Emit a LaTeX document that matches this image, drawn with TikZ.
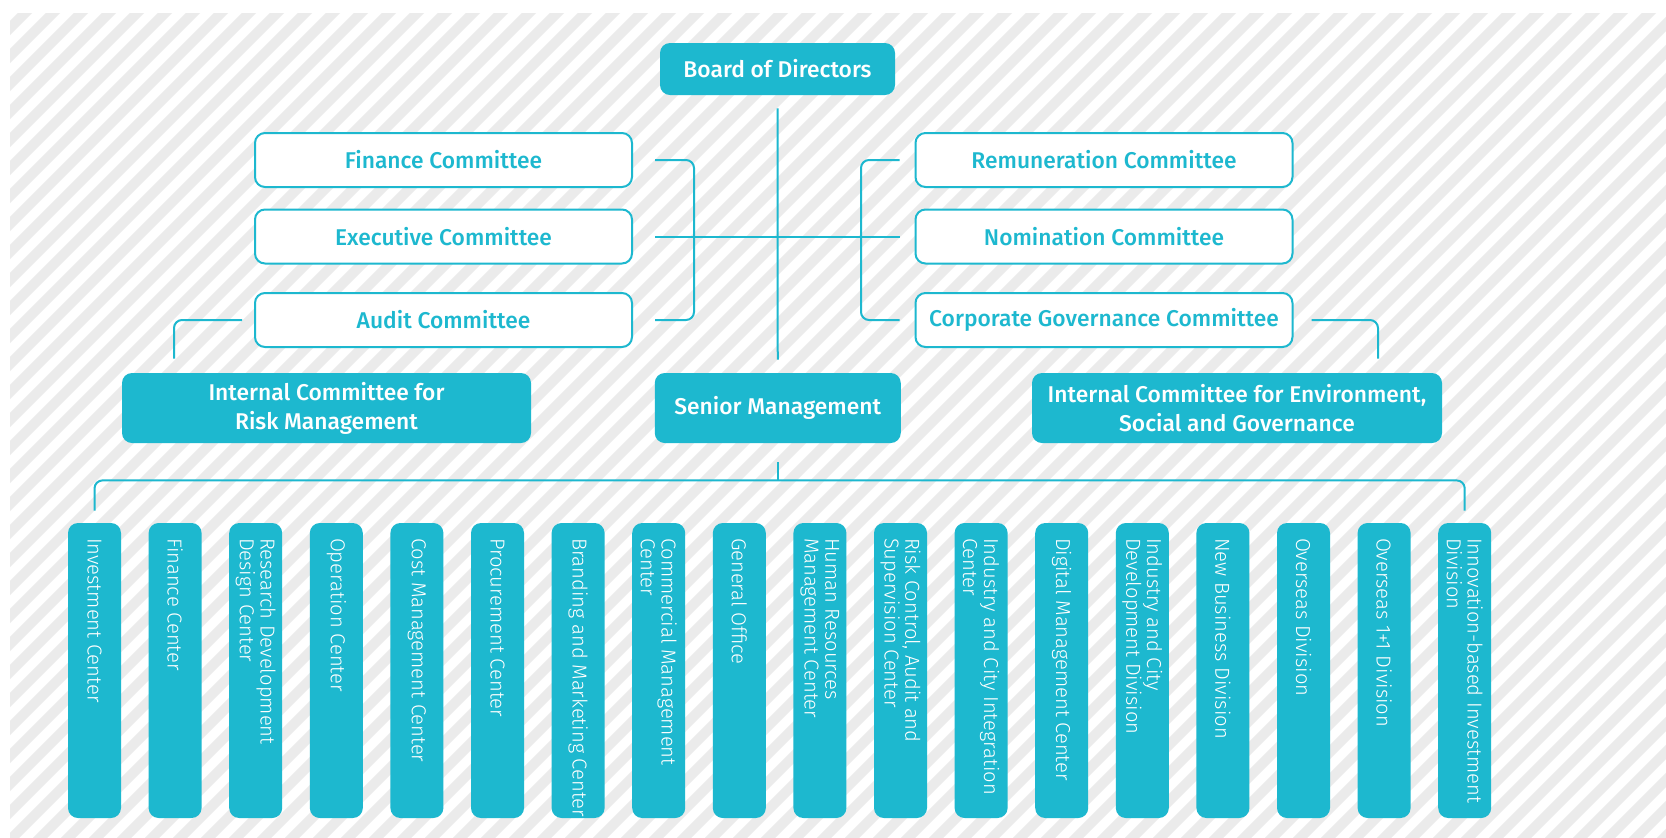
\documentclass[tikz,border=0pt]{standalone}
\usepackage{fontspec}
\setmainfont{Fira Sans}
\newfontfamily\boxfont{Fira Sans Medium}
\newfontfamily\unitfont{Fira Sans Light}
\usetikzlibrary{shapes.geometric, arrows}
\usetikzlibrary{positioning}
\definecolor{boxcyan}{HTML}{1DB8CF}
\definecolor{stripegray}{HTML}{EBEBEB}
\newcommand{\unittext}[1]{\rotatebox{-90}{\parbox{132.5pt}{\raggedright #1}}}
\tikzstyle{board} = [rectangle, rounded corners=5pt, fill=boxcyan, text=white, font=\boxfont\fontsize{11.4}{14.5}\selectfont, align=center, inner sep=0pt]
\tikzstyle{committee} = [rectangle, rounded corners=5pt, draw=boxcyan, line width=1pt, fill=white, text=boxcyan, font=\boxfont\fontsize{11.4}{13}\selectfont, minimum width=188.5pt, minimum height=27pt, inner sep=0pt]
\tikzstyle{unit} = [rectangle, rounded corners=5pt, fill=boxcyan, text=white, font=\unitfont\fontsize{10.1}{10.4}\selectfont, minimum width=26.5pt, minimum height=147.5pt, inner xsep=0pt, inner ysep=7.5pt]
\tikzstyle{link} = [line width=1pt, draw=boxcyan, rounded corners=4pt]
\tikzstyle{stripe} = [line width=5pt, draw=stripegray]

\begin{document}
\begin{tikzpicture}[x=0.5pt, y=-0.5pt, node distance=40.3pt]
    \useasboundingbox (0,0) rectangle (1666,837);
    \fill[white] (0,0) rectangle (1666,837);
    % striped backdrop
    \begin{scope}
        \clip (10,13) rectangle (1666,837);
        \foreach \k in {-30,...,60}
            \draw [stripe] (\k*28, 850) -- ++(860,-860);
    \end{scope}

    \node (board) [board, minimum width=117.5pt, minimum height=26pt] at (777.5,69) {Board of Directors};
    \node (fin) [committee] at (443.5,160) {Finance Committee};
    \node (exe) [committee, below of = fin, node distance=38.25pt] {Executive Committee};
    \node (aud) [committee, below of = exe, node distance=41.75pt] {Audit Committee};
    \node (rem) [committee] at (1104,160) {Remuneration Committee};
    \node (nom) [committee, below of = rem, node distance=38.25pt] {Nomination Committee};
    \node (cgc) [committee, below of = nom, node distance=41.75pt] {Corporate Governance Committee};
    \node (risk) [board, minimum width=204.5pt, minimum height=35pt] at (326.5,408) {Internal Committee for\\Risk Management};
    \node (senior) [board, minimum width=123pt, minimum height=35pt] at (777.75,408) {Senior Management};
    \node (esg) [board, minimum width=205pt, minimum height=35pt] at (1237,408) {Internal Committee for Environment,\\Social and Governance};

    \node (u1) [unit] at (94.5,670.5) {\unittext{Investment Center}};
    \node (u2) [unit, right of = u1] {\unittext{Finance Center}};
    \node (u3) [unit, right of = u2] {\unittext{Research Development\\Design Center}};
    \node (u4) [unit, right of = u3] {\unittext{Operation Center}};
    \node (u5) [unit, right of = u4] {\unittext{Cost Management Center}};
    \node (u6) [unit, right of = u5] {\unittext{Procurement Center}};
    \node (u7) [unit, right of = u6] {\unittext{\mbox{Branding and Marketing Center}}};
    \node (u8) [unit, right of = u7] {\unittext{Commercial Management\\Center}};
    \node (u9) [unit, right of = u8] {\unittext{General Office}};
    \node (u10) [unit, right of = u9] {\unittext{Human Resources\\Management Center}};
    \node (u11) [unit, right of = u10] {\unittext{Risk Control, Audit and\\Supervision Center}};
    \node (u12) [unit, right of = u11] {\unittext{\mbox{Industry and City Integration}\\Center}};
    \node (u13) [unit, right of = u12] {\unittext{Digital Management Center}};
    \node (u14) [unit, right of = u13] {\unittext{Industry and City\\Development Division}};
    \node (u15) [unit, right of = u14] {\unittext{New Business Division}};
    \node (u16) [unit, right of = u15] {\unittext{Overseas Division}};
    \node (u17) [unit, right of = u16] {\unittext{Overseas 1+1 Division}};
    \node (u18) [unit, right of = u17] {\unittext{\mbox{Innovation-based Investment}\\Division}};

    \draw [link] ([yshift=-6.5pt]board.south) -- ([yshift=6.5pt]senior.north);
    \draw [link] ([xshift=11pt]fin.east) -| ([xshift=30.5pt]exe.east) |- ([xshift=11pt]aud.east);
    \draw [link] ([xshift=11pt]exe.east) -- ([xshift=-7.5pt]nom.west);
    \draw [link] ([xshift=-7.5pt]rem.west) -| ([xshift=-26.75pt]nom.west) |- ([xshift=-7.5pt]cgc.west);
    \draw [link] ([xshift=-6pt]aud.west) -| ([xshift=-76.25pt, yshift=7pt]risk.north);
    \draw [link] ([xshift=9pt]cgc.east) -| ([xshift=70.5pt, yshift=7pt]esg.north);
    \coordinate (bus) at ([yshift=-18.5pt]senior.south);
    \draw [link] ([yshift=-9.5pt]senior.south) -- (bus);
    \draw [link] ([yshift=6pt]u1.north) |- (bus) -| ([yshift=6pt]u18.north);
\end{tikzpicture}
\end{document}
